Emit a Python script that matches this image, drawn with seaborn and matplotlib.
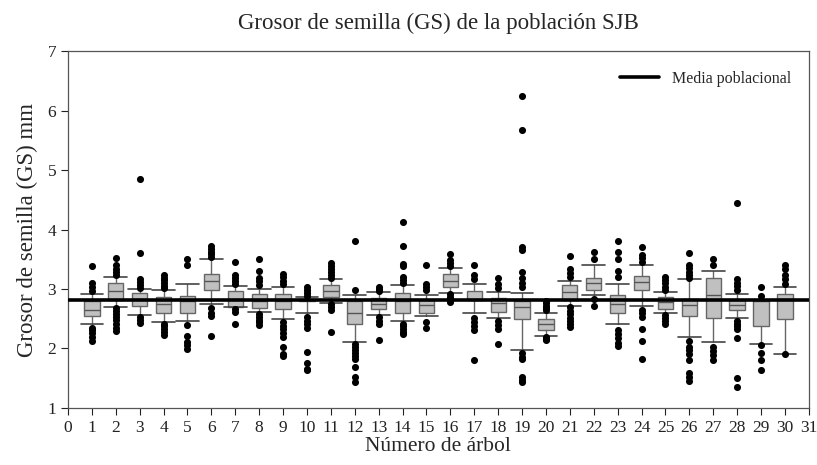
import numpy as np
import pandas as pd
import matplotlib
matplotlib.use("Agg")
import matplotlib.pyplot as plt
import seaborn as sns

# Tree numbers
trees = list(range(1, 31))

# Box statistics per tree (mm)
q1 = [2.55, 2.81, 2.71, 2.59, 2.59, 2.98, 2.70, 2.68, 2.67, 2.79,
      2.86, 2.41, 2.67, 2.60, 2.60, 3.03, 2.82, 2.62, 2.49, 2.31,
      2.81, 2.99, 2.60, 2.98, 2.67, 2.54, 2.52, 2.64, 2.37, 2.50]
median = [2.64, 2.96, 2.84, 2.75, 2.80, 3.13, 2.83, 2.80, 2.80, 2.81,
          2.96, 2.59, 2.75, 2.80, 2.73, 3.13, 2.83, 2.77, 2.69, 2.41,
          2.95, 3.10, 2.75, 3.12, 2.78, 2.73, 2.90, 2.73, 2.80, 2.82]
q3 = [2.79, 3.10, 2.93, 2.86, 2.89, 3.26, 2.96, 2.91, 2.91, 2.83,
      3.07, 2.80, 2.85, 2.94, 2.82, 3.26, 2.97, 2.85, 2.79, 2.50,
      3.06, 3.19, 2.90, 3.22, 2.86, 2.84, 3.19, 2.81, 2.81, 2.92]
whisker_low = [2.41, 2.70, 2.57, 2.45, 2.46, 2.74, 2.70, 2.61, 2.50, 2.59,
               2.77, 2.11, 2.56, 2.47, 2.54, 2.93, 2.60, 2.51, 1.97, 2.21,
               2.71, 2.90, 2.41, 2.71, 2.60, 2.19, 2.11, 2.51, 2.07, 1.90]
whisker_high = [2.91, 3.20, 3.00, 2.99, 3.09, 3.50, 3.05, 3.00, 3.03, 2.86,
                3.17, 2.90, 2.95, 3.06, 2.90, 3.36, 3.09, 2.95, 2.93, 2.60,
                3.14, 3.40, 3.09, 3.41, 2.95, 3.16, 3.30, 2.92, 2.81, 3.03]

# Values outside the whiskers, per tree
outliers = [
    [3.38, 3.10, 3.03, 2.97, 2.35, 2.31, 2.26, 2.20, 2.13],
    [3.52, 3.40, 3.34, 3.28, 3.24, 2.68, 2.63, 2.58, 2.53, 2.48, 2.42, 2.34, 2.30],
    [4.85, 3.61, 3.17, 3.12, 3.06, 3.02, 2.53, 2.48, 2.43],
    [3.23, 3.19, 3.15, 3.10, 3.05, 3.01, 2.42, 2.37, 2.32, 2.27, 2.22],
    [3.51, 3.41, 2.40, 2.21, 2.11, 2.06, 1.99],
    [3.73, 3.68, 3.63, 3.58, 3.53, 2.68, 2.60, 2.54, 2.21],
    [3.45, 3.24, 3.19, 3.14, 3.09, 2.67, 2.62, 2.41],
    [3.51, 3.31, 3.18, 3.13, 3.07, 2.58, 2.53, 2.48, 2.44, 2.40],
    [3.25, 3.20, 3.14, 3.08, 2.45, 2.38, 2.32, 2.26, 2.20, 2.03, 1.90, 1.87],
    [3.03, 2.98, 2.93, 2.89, 2.53, 2.47, 2.41, 2.35, 1.94, 1.75, 1.66, 1.64],
    [3.44, 3.39, 3.34, 3.29, 3.23, 3.19, 2.74, 2.70, 2.65, 2.28],
    [3.80, 2.99, 2.08, 2.03, 1.98, 1.93, 1.88, 1.82, 1.69, 1.52, 1.43],
    [3.04, 3.00, 2.97, 2.53, 2.47, 2.42, 2.14],
    [4.12, 3.73, 3.42, 3.39, 3.21, 3.15, 3.10, 2.42, 2.37, 2.32, 2.27, 2.25],
    [3.41, 3.09, 3.04, 2.99, 2.45, 2.35],
    [3.59, 3.48, 3.43, 3.39, 2.91, 2.87, 2.83, 2.78],
    [3.40, 3.23, 3.17, 2.52, 2.45, 2.38, 2.31, 1.80],
    [3.19, 3.08, 3.01, 2.47, 2.40, 2.33, 2.08],
    [6.25, 5.67, 3.71, 3.65, 3.29, 3.19, 3.10, 3.03, 1.92, 1.86, 1.83, 1.52, 1.47, 1.43],
    [2.80, 2.76, 2.72, 2.68, 2.64, 2.19, 2.16, 2.14],
    [3.55, 3.33, 3.27, 3.21, 2.69, 2.63, 2.58, 2.52, 2.47, 2.41, 2.36],
    [3.62, 3.51, 2.83, 2.71],
    [3.80, 3.62, 3.51, 3.31, 3.21, 2.31, 2.24, 2.18, 2.10, 2.04],
    [3.70, 3.57, 3.52, 3.46, 2.65, 2.59, 2.53, 2.33, 2.12, 1.82],
    [3.20, 3.15, 3.10, 3.04, 2.99, 2.56, 2.51, 2.46, 2.41],
    [3.61, 3.40, 3.35, 3.29, 3.24, 3.19, 2.13, 2.03, 1.97, 1.91, 1.80, 1.58, 1.52, 1.45],
    [3.51, 3.40, 2.03, 1.96, 1.89, 1.80],
    [4.44, 3.17, 3.10, 3.05, 2.99, 2.47, 2.42, 2.37, 2.32, 2.17, 1.51, 1.36],
    [3.03, 2.89, 2.06, 1.92, 1.80, 1.64],
    [3.41, 3.33, 3.24, 3.16, 3.09, 1.90],
]

# Population mean (mm)
population_mean = 2.81

x_ticks = list(range(0, 32))
y_ticks = [1, 2, 3, 4, 5, 6, 7]

sns.set_style("ticks")
plt.rcParams["font.family"] = ["Liberation Serif", "DejaVu Serif"]

fig = plt.figure(figsize=(8.17, 4.65), dpi=100)
ax = fig.add_axes([0.0832, 0.1226, 0.9068, 0.7677])

stats = [
    dict(med=m, q1=a, q3=b, whislo=lo, whishi=hi, fliers=[], label=str(t))
    for t, a, m, b, lo, hi in zip(trees, q1, median, q3, whisker_low, whisker_high)
]
ax.bxp(
    stats, positions=trees, widths=0.64, capwidths=0.95,
    patch_artist=True, showfliers=False, manage_ticks=False,
    boxprops=dict(facecolor="#c0c0c0", edgecolor="#666666", linewidth=1.0),
    medianprops=dict(color="#555555", linewidth=1.0),
    whiskerprops=dict(color="#666666", linewidth=1.0),
    capprops=dict(color="#444444", linewidth=1.2),
)

flier_df = pd.DataFrame(
    [(t, v) for t, vals in zip(trees, outliers) for v in vals],
    columns=["arbol", "grosor"],
)
sns.scatterplot(data=flier_df, x="arbol", y="grosor", color="black",
                s=26, linewidth=0, ax=ax, zorder=4)

ax.axhline(population_mean, color="black", linewidth=2.6, zorder=5,
           label="Media poblacional")

ax.set_xlim(0, 31)
ax.set_ylim(1, 7)
ax.set_xticks(x_ticks)
ax.set_yticks(y_ticks)
ax.tick_params(axis="both", direction="out", length=5, width=0.8,
               labelsize=12.5, colors="#222222")
for side in ["left", "bottom", "top", "right"]:
    ax.spines[side].set_visible(True)
    ax.spines[side].set_linewidth(0.9)
    ax.spines[side].set_color("#555555")

ax.set_xlabel("Número de árbol", fontsize=15.5, labelpad=1)
ax.set_ylabel("Grosor de semilla (GS) mm", fontsize=16.5, labelpad=7)
ax.set_title("Grosor de semilla (GS) de la población SJB", fontsize=16.5, pad=16)

ax.legend(loc="upper right", frameon=False, fontsize=11.5,
          handlelength=2.4, bbox_to_anchor=(0.995, 0.985))

fig.savefig("out.png", dpi=100)
